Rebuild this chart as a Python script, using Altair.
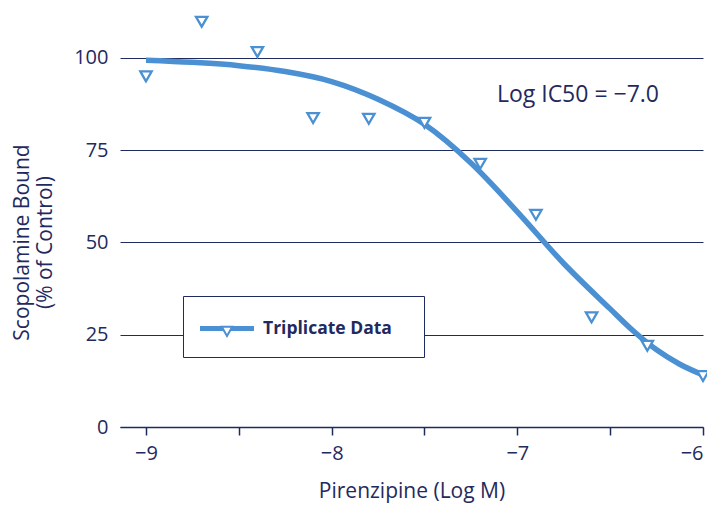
import altair as alt
import pandas as pd

NAVY = "#1f2a5e"
BLUE = "#4a90d2"
FONT = "Open Sans"

# Observed (triplicate) data
obs_x = [-9.0, -8.7, -8.4, -8.1, -7.8, -7.5, -7.2, -6.9, -6.6, -6.3, -6.0]
obs_y = [95.0, 109.8, 101.6, 83.7, 83.5, 82.4, 71.3, 57.5, 29.7, 22.0, 13.8]
series_name = "Triplicate Data"

# Fitted curve
fit_x = [-9.0, -8.75, -8.5, -8.25, -8.0, -7.75, -7.5, -7.25, -7.0, -6.75, -6.5, -6.375, -6.25, -6.125, -6.0]
fit_y = [99.4, 98.8, 97.9, 96.3, 93.6, 88.8, 82.0, 71.5, 58.3, 44.3, 32.0, 26.0, 20.9, 17.0, 14.1]

# Axis ticks
x_ticks = [-9.0, -8.5, -8.0, -7.5, -7.0, -6.5, -6.0]
y_ticks = [0, 25, 50, 75, 100]

# Annotation
note_x = [-7.11]
note_y = [90]
note_text = ["Log IC50 = \u22127.0"]

obs = pd.DataFrame({"x": obs_x, "y": obs_y, "series": series_name})
fit = pd.DataFrame({"x": fit_x, "y": fit_y})
note = pd.DataFrame({"x": note_x, "y": note_y, "t": note_text})

xscale = alt.Scale(domain=[-9.14, -6.0], nice=False, zero=False)
yscale = alt.Scale(domain=[0, 110], nice=False)

xaxis = alt.Axis(
    values=x_ticks,
    labelExpr="datum.value % 1 === 0 ? format(datum.value, 'd') : ''",
    title="Pirenzipine (Log M)",
    grid=False,
    domainColor=NAVY,
    domainWidth=1.5,
    tickColor=NAVY,
    tickWidth=1.5,
    tickSize=8,
    labelPadding=8,
    titlePadding=17,
    titleFontSize=21,
)
yaxis = alt.Axis(
    values=y_ticks,
    grid=True,
    gridColor=NAVY,
    gridWidth=1.2,
    domain=False,
    ticks=False,
    labelPadding=12,
    title=["Scopolamine Bound", "(% of Control)"],
    titleX=-88,
    titleY=221,
    titleFontSize=21,
    titleLineHeight=23,
)

LEG_PATH = (
    "M-2,-0.185L-0.4,-0.185L-0.22,0.185L-2,0.185Z"
    "M2,-0.185L2,0.185L0.22,0.185L0.4,-0.185Z"
    "M-0.52,-0.2L0.52,-0.2L0,0.7Z"
    "M-0.26,-0.05L0,0.4L0.26,-0.05Z"
)

line = alt.Chart(fit).mark_line(color=BLUE, strokeWidth=5.5, interpolate="monotone", clip=False).encode(
    x=alt.X("x:Q", scale=xscale, axis=xaxis),
    y=alt.Y("y:Q", scale=yscale, axis=yaxis),
)

points = alt.Chart(obs).mark_point(
    shape="triangle-down", filled=True, fill="white", stroke=BLUE, strokeWidth=2.3, size=130, opacity=1
).encode(x="x:Q", y="y:Q")

legend_layer = alt.Chart(obs).mark_point(filled=True, opacity=0).encode(
    x="x:Q",
    y="y:Q",
    fill=alt.Fill(
        "series:N",
        scale=alt.Scale(range=[BLUE]),
        legend=alt.Legend(
            orient="none",
            legendX=63,
            legendY=275,
            title=".",
            titleOrient="right",
            titleOpacity=0,
            titleFontSize=8,
            titlePadding=10,
            symbolType=LEG_PATH,
            symbolSize=729,
            symbolStrokeWidth=0,
            symbolOpacity=1,
            symbolOffset=11.5,
            labelOffset=22.5,
            padding=19,
            strokeColor=NAVY,
            fillColor="white",
            labelFont=FONT,
            labelFontWeight="bold",
            labelFontSize=17.5,
            labelColor=NAVY,
        ),
    ),
)

text = alt.Chart(note).mark_text(
    align="left", baseline="middle", font=FONT, fontSize=23, color=NAVY
).encode(x="x:Q", y="y:Q", text="t:N")

chart = (
    alt.layer(line, points, legend_layer, text)
    .properties(
        width=583,
        height=406,
        autosize=alt.AutoSizeParams(type="none"),
        padding={"left": 112, "top": 13, "right": 4, "bottom": 77},
        background="white",
    )
    .configure_view(stroke=None)
    .configure_axis(
        labelFont=FONT,
        titleFont=FONT,
        labelFontSize=20,
        labelColor=NAVY,
        titleColor=NAVY,
        titleFontWeight="normal",
    )
)

chart.save("out.html", embed_options={"renderer": "svg", "actions": False})
